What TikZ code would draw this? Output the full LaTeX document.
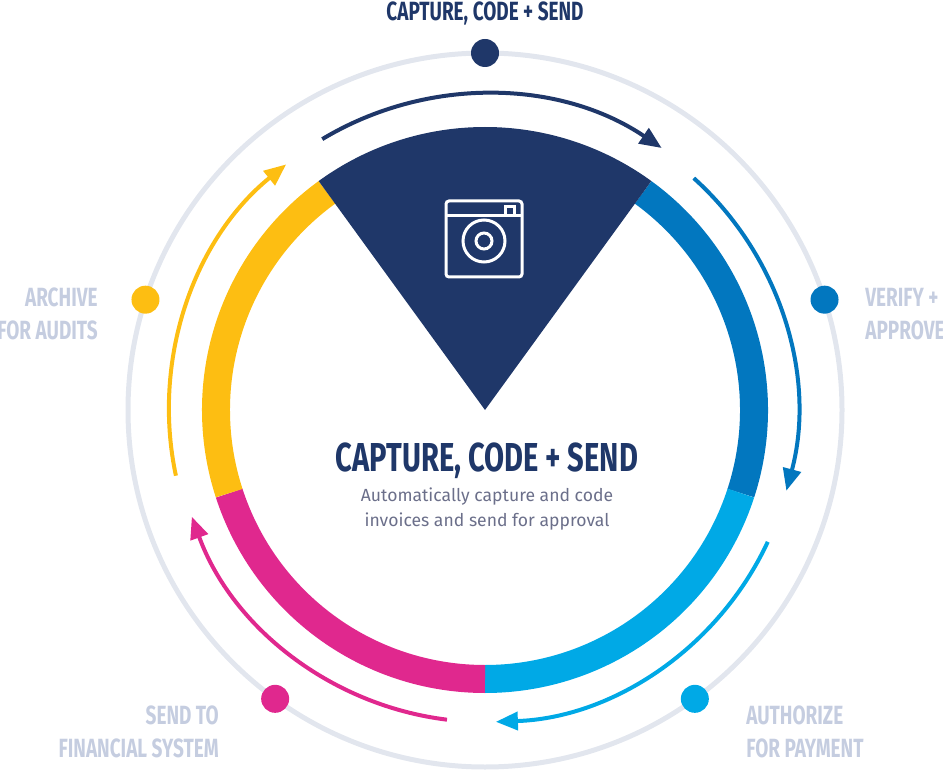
\documentclass[tikz,border=0pt]{standalone}
\usepackage{fontspec}
\setmainfont{Fira Sans}
\newfontfamily\bebas[FakeStretch=0.72]{Fira Sans}
\usetikzlibrary{arrows.meta}
\definecolor{navy}{HTML}{1F3769}
\definecolor{dblue}{HTML}{0277BF}
\definecolor{lblue}{HTML}{00A9E6}
\definecolor{magen}{HTML}{E0288E}
\definecolor{yell}{HTML}{FDBE12}
\definecolor{ringgray}{HTML}{E2E6EE}
\definecolor{labgray}{HTML}{C5CDE0}
\definecolor{txtgray}{HTML}{6B6F8A}
\begin{document}
\begin{tikzpicture}[x=0.02cm,y=0.02cm,
    step label/.style={font=\bebas\bfseries\fontsize{15}{17}\selectfont,text=labgray,inner sep=0pt},
    dot/.style={circle,fill=#1,minimum size=28*0.02cm,inner sep=0pt},
    seg/.style={draw=#1,line width=28*0.02cm},
    flow/.style={draw=#1,line width=4*0.02cm,-{Stealth[length=22*0.02cm,width=18*0.02cm,inset=0pt]}}]
    \useasboundingbox (0,-773) rectangle (943,0);
    \coordinate (c) at (485,-410);
    % outer ring
    \draw[ringgray,line width=5*0.02cm] (c) circle (357);
    % coloured ring
    \draw[seg=dblue] ([shift={(-18:269)}]c) arc (-18:54:269);
    \draw[seg=lblue] ([shift={(-90:269)}]c) arc (-90:-18:269);
    \draw[seg=magen] ([shift={(198:269)}]c) arc (198:270:269);
    \draw[seg=yell] ([shift={(126:269)}]c) arc (126:198:269);
    % wedge
    \fill[navy] (c) -- ([shift={(54:283)}]c) arc (54:126:283) -- cycle;
    % camera icon
    \begin{scope}[white,line width=3*0.02cm]
        \draw[rounded corners=3*0.02cm] (446,-201) rectangle (522,-277);
        \draw (446,-216) -- (522,-216);
        \draw (505,-207) rectangle (514,-216);
        \draw (484,-241) circle (21);
        \draw (484,-241) circle (8);
    \end{scope}
    % flow arrows
    \draw[flow=navy] ([shift={(121:316)}]c) arc (121:56:316);
    \draw[flow=dblue] ([shift={(48:312)}]c) arc (48:-15:312);
    \draw[flow=lblue] ([shift={(-25:312)}]c) arc (-25:-88:312);
    \draw[flow=magen] ([shift={(263:312)}]c) arc (263:200:312);
    \draw[flow=yell] ([shift={(192:316)}]c) arc (192:129:316);
    % dots
    \node[dot=navy] (d1) at ([shift={(90:357)}]c) {};
    \node[dot=dblue] (d2) at ([shift={(18:357)}]c) {};
    \node[dot=lblue] (d3) at ([shift={(-54:357)}]c) {};
    \node[dot=magen] (d4) at ([shift={(234:357)}]c) {};
    \node[dot=yell] (d5) at ([shift={(162:357)}]c) {};
    % labels
    \node[step label,text=navy] (l1) at (485,-13) {CAPTURE, CODE + SEND};
    \node[step label,anchor=west,align=left] (l2) at (865,-314) {VERIFY +\\[2pt]APPROVE};
    \node[step label,anchor=west,align=left] (l3) at (746,-732) {AUTHORIZE\\[2pt]FOR PAYMENT};
    \node[step label,anchor=east,align=right] (l4) at (219,-732) {SEND TO\\[2pt]FINANCIAL SYSTEM};
    \node[step label,anchor=east,align=right] (l5) at (98,-314) {ARCHIVE\\[2pt]FOR AUDITS};
    % centre text
    \node[font=\bebas\bfseries\fontsize{23}{26}\selectfont,text=navy,inner sep=0pt] (title) at (487,-461) {CAPTURE, CODE + SEND};
    \node[font=\fontsize{10}{14}\selectfont,text=txtgray,align=center,inner sep=0pt] (sub) at (487,-509) {Automatically capture and code\\invoices and send for approval};
\end{tikzpicture}
\end{document}
